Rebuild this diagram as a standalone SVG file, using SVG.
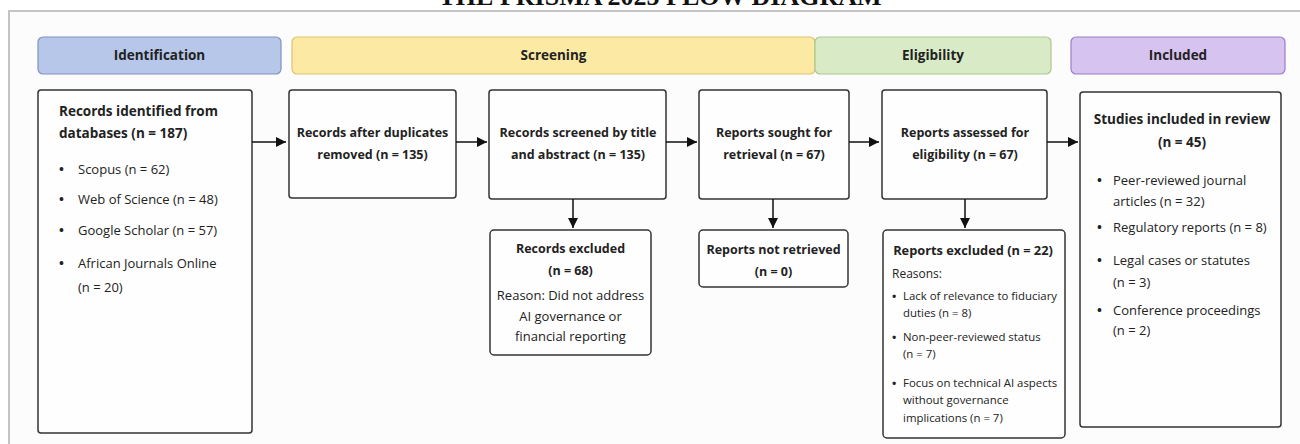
<svg xmlns="http://www.w3.org/2000/svg" width="1300" height="444" viewBox="0 0 1300 444">
<defs>
<marker id="ah" viewBox="0 0 10 10" refX="10" refY="5" markerWidth="10" markerHeight="10" markerUnits="userSpaceOnUse" orient="auto">
<path d="M0,0 L10,5 L0,10 Z" fill="#111"/>
</marker>
<style>
text{font-family:"Open Sans","Noto Sans","Liberation Sans",sans-serif;fill:#222;}
.t{font-size:13.5px;font-weight:bold;}
.tm{font-size:12.5px;font-weight:bold;}
.r{font-size:13px;}
.s{font-size:11.4px;}
.b{font-weight:bold;}
.m{text-anchor:middle;}
.box{fill:#fefefe;stroke:#333;stroke-width:1.5;}
.hd{stroke-width:1.2;}
.con{stroke:#111;stroke-width:1.5;fill:none;marker-end:url(#ah);}
</style>
</defs>
<rect x="0" y="0" width="1300" height="444" fill="#ffffff"/>
<text x="660" y="4.5" text-anchor="middle" style="font-family:'Liberation Serif',serif;font-size:26px;font-weight:bold;fill:#111">THE PRISMA 2025 FLOW DIAGRAM</text>
<path d="M9,444 V11 H1300" fill="none" stroke="#c4c4c4" stroke-width="2"/>
<rect x="10" y="12" width="1290" height="432" fill="#fcfcfc"/>

<g id="phases">
<g id="ph-identification">
<rect class="hd" x="38" y="37" width="243" height="37" rx="5" fill="#b7c7ea" stroke="#7e92c3"/>
<text class="t m" x="159.5" y="60">Identification</text>
</g>
<g id="ph-screening">
<rect class="hd" x="292" y="37" width="523" height="37" rx="5" fill="#fce9a4" stroke="#dfc46a"/>
<text class="t m" x="553.5" y="60">Screening</text>
</g>
<g id="ph-eligibility">
<rect class="hd" x="815" y="37" width="236" height="37" rx="5" fill="#d8ebc6" stroke="#a8c98f"/>
<text class="t m" x="933" y="60">Eligibility</text>
</g>
<g id="ph-included">
<rect class="hd" x="1071" y="37" width="214" height="37" rx="5" fill="#d6c3f0" stroke="#9a7dc8"/>
<text class="t m" x="1178" y="60">Included</text>
</g>
</g>

<g id="n-identified">
<rect class="box" x="38" y="90" width="214" height="343" rx="3"/>
<text class="t" x="59" y="116">Records identified from</text>
<text class="t" x="59" y="138">databases (n = 187)</text>
<text class="r b" x="59" y="174">•</text><text class="r" x="78" y="174">Scopus (n = 62)</text>
<text class="r b" x="59" y="204">•</text><text class="r" x="78" y="204">Web of Science (n = 48)</text>
<text class="r b" x="59" y="235">•</text><text class="r" x="78" y="235">Google Scholar (n = 57)</text>
<text class="r b" x="59" y="268">•</text><text class="r" x="78" y="268">African Journals Online</text>
<text class="r" x="78" y="292">(n = 20)</text>
</g>

<g id="n-dedup">
<rect class="box" x="289" y="90" width="167" height="108" rx="3"/>
<text class="tm m" x="372.5" y="137">Records after duplicates</text>
<text class="tm m" x="372.5" y="159">removed (n = 135)</text>
</g>

<g id="n-screened">
<rect class="box" x="489" y="90" width="177" height="109" rx="3"/>
<text class="tm m" x="578" y="137">Records screened by title</text>
<text class="tm m" x="578" y="159">and abstract (n = 135)</text>
</g>

<g id="n-sought">
<rect class="box" x="699" y="90" width="150" height="109" rx="3"/>
<text class="tm m" x="774" y="137">Reports sought for</text>
<text class="tm m" x="774" y="159">retrieval (n = 67)</text>
</g>

<g id="n-assessed">
<rect class="box" x="882" y="90" width="165" height="109" rx="3"/>
<text class="tm m" x="965" y="137">Reports assessed for</text>
<text class="tm m" x="965" y="159">eligibility (n = 67)</text>
</g>

<g id="n-included">
<rect class="box" x="1080" y="92" width="201" height="335" rx="3"/>
<text class="t m" x="1182" y="124">Studies included in review</text>
<text class="t m" x="1182" y="147">(n = 45)</text>
<text class="r b" x="1097" y="185">•</text><text class="r" x="1113" y="185">Peer-reviewed journal</text>
<text class="r" x="1113" y="206">articles (n = 32)</text>
<text class="r b" x="1097" y="232">•</text><text class="r" x="1113" y="232">Regulatory reports (n = 8)</text>
<text class="r b" x="1097" y="265">•</text><text class="r" x="1113" y="265">Legal cases or statutes</text>
<text class="r" x="1113" y="287">(n = 3)</text>
<text class="r b" x="1097" y="315">•</text><text class="r" x="1113" y="315">Conference proceedings</text>
<text class="r" x="1113" y="335">(n = 2)</text>
</g>

<g id="n-excluded1">
<rect class="box" x="490" y="230" width="161" height="125" rx="4"/>
<text class="tm m" x="570.5" y="253">Records excluded</text>
<text class="tm m" x="570.5" y="275">(n = 68)</text>
<text class="r m" x="570.5" y="300">Reason: Did not address</text>
<text class="r m" x="570.5" y="321">AI governance or</text>
<text class="r m" x="570.5" y="341">financial reporting</text>
</g>

<g id="n-notretrieved">
<rect class="box" x="699" y="230" width="149" height="57" rx="4"/>
<text class="tm m" x="773.5" y="254">Reports not retrieved</text>
<text class="tm m" x="773.5" y="276">(n = 0)</text>
</g>

<g id="n-excluded2">
<rect class="box" x="883" y="230" width="182" height="208" rx="4"/>
<text class="m" x="973" y="255" style="font-size:12.8px;font-weight:bold">Reports excluded (n = 22)</text>
<text class="r" x="892" y="278" style="font-size:12px">Reasons:</text>
<text class="s b" x="892" y="300">•</text><text class="s" x="903" y="300">Lack of relevance to fiduciary</text>
<text class="s" x="903" y="317">duties (n = 8)</text>
<text class="s b" x="892" y="341">•</text><text class="s" x="903" y="341">Non-peer-reviewed status</text>
<text class="s" x="903" y="358">(n = 7)</text>
<text class="s b" x="892" y="387">•</text><text class="s" x="903" y="387">Focus on technical AI aspects</text>
<text class="s" x="903" y="404">without governance</text>
<text class="s" x="903" y="422">implications (n = 7)</text>
</g>

<g id="connectors">
<line class="con" x1="252" y1="142" x2="286" y2="142"/>
<line class="con" x1="456" y1="142" x2="487" y2="142"/>
<line class="con" x1="666" y1="142" x2="697" y2="142"/>
<line class="con" x1="849" y1="142" x2="879" y2="142"/>
<line class="con" x1="1047" y1="142" x2="1078" y2="142"/>
<line class="con" x1="573" y1="199" x2="573" y2="228"/>
<line class="con" x1="773" y1="199" x2="773" y2="228"/>
<line class="con" x1="965" y1="199" x2="965" y2="228"/>
</g>
</svg>
